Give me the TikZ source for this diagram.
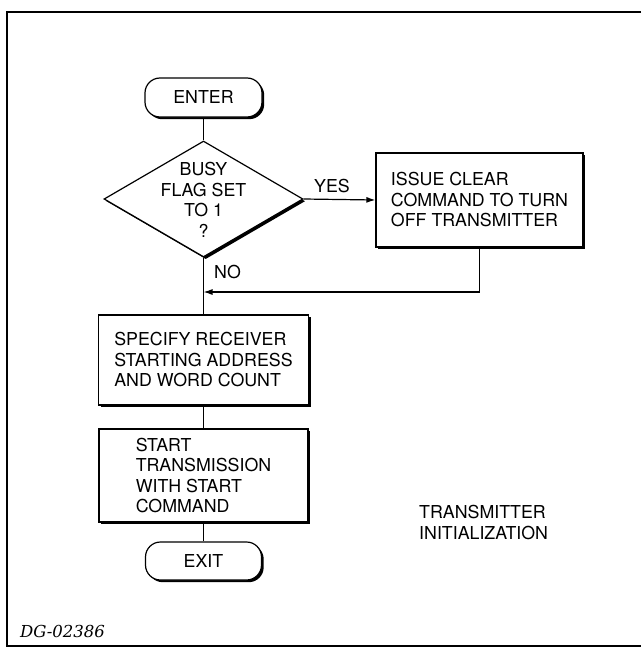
\documentclass[tikz,border=0pt]{standalone}
\usepackage{fontspec}
\setsansfont{TeX Gyre Heros}
\newfontfamily\dgfont{DejaVu Serif}
\usetikzlibrary{shapes.geometric,shadows,arrows.meta}
\tikzset{
  txt/.style={font=\sffamily\fontsize{17.8}{20.5}\selectfont},
  sh/.style={drop shadow={shadow xshift=2.2pt,shadow yshift=-2.2pt,fill=black,opacity=1}},
  procbox/.style={txt,draw,fill=white,line width=1.2pt,sh,rectangle,align=left,inner sep=0pt},
  termbox/.style={txt,draw,fill=white,line width=1.2pt,sh,rectangle,rounded corners=15pt,inner sep=0pt},
  decbox/.style={draw,fill=white,line width=1.2pt,sh,diamond,inner sep=0pt},
  conn/.style={line width=1.2pt},
  arr/.style={line width=1.2pt,-{Latex[length=9pt,width=6pt]}},
  lbl/.style={txt,inner sep=0pt}
}
\begin{document}
\begin{tikzpicture}[x=1pt,y=-1pt]
\useasboundingbox (0,0) rectangle (641,648);
\draw[line width=2pt] (641,12) -- (7,12) -- (7,646) -- (641,646);

\node[termbox,minimum width=117pt,minimum height=39pt] (enter) at (203.5,97.5) {ENTER};
\node[decbox,minimum width=199pt,minimum height=116pt] (dec) at (203.5,199) {};
\node[lbl,align=center] (dectext) at (203.5,200) {BUSY\\FLAG SET\\TO 1\\?};
\node[procbox,minimum width=207pt,minimum height=94pt] (issue) at (479.5,200) {ISSUE CLEAR\\COMMAND TO TURN\\OFF TRANSMITTER};
\node[procbox,minimum width=210pt,minimum height=90pt] (spec) at (203.5,360) {SPECIFY RECEIVER\\STARTING ADDRESS\\AND WORD COUNT};
\node[procbox,minimum width=209pt,minimum height=93pt] (start) at (203.5,475.5) {START\\TRANSMISSION\\WITH START\\COMMAND};
\node[termbox,minimum width=116pt,minimum height=38pt] (exit) at (203.5,561) {EXIT};

\node[lbl,anchor=base west] (yes) at (314,192) {YES};
\node[lbl,anchor=base west] (no) at (214,278) {NO};
\node[lbl,anchor=north west,align=left] (title) at (419,505) {TRANSMITTER\\INITIALIZATION};
\node[inner sep=0pt,anchor=base west,font=\dgfont\itshape\fontsize{16.5}{20}\selectfont] (dg) at (20,637) {DG-02386};

\coordinate (join) at (203.5,292);
\draw[conn] (enter.south) -- (dec.north);
\draw[arr] (dec.east) -- (issue.west);
\draw[arr] (issue.south) |- (join);
\draw[conn] (dec.south) -- (spec.north);
\draw[conn] (spec.south) -- (start.north);
\draw[conn] (start.south) -- (exit.north);
\end{tikzpicture}
\end{document}
